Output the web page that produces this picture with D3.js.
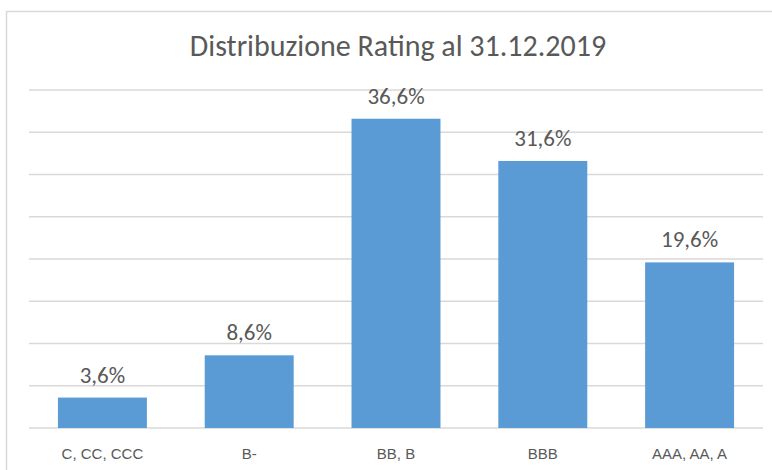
<!DOCTYPE html>
<html lang="it">
<head>
    <meta charset="UTF-8">
    <title>Distribuzione Rating al 31.12.2019</title>
    <style>
        body {
            margin: 0;
            background-color: #FFFFFF;
            font-family: Calibri, Carlito, Lato, "Liberation Sans", Arial, sans-serif;
        }
        svg text {
            fill: #595959;
        }
    </style>
</head>
<body>
    <div id="chart"></div>

    <script src="https://d3js.org/d3.v7.min.js"></script>
    <script>
        // Data
        const categories = ["C, CC, CCC", "B-", "BB, B", "BBB", "AAA, AA, A"];
        const values = [3.6, 8.6, 36.6, 31.6, 19.6];
        const gridTicks = [0, 5, 10, 15, 20, 25, 30, 35, 40];
        const title = "Distribuzione Rating al 31.12.2019";

        const width = 772;
        const height = 470;
        const plot = { left: 29, right: 763, top: 90, bottom: 428 };

        const svg = d3.select("#chart")
            .append("svg")
            .attr("width", width)
            .attr("height", height);

        // Chart frame (only top and left edges are visible in the picture)
        svg.append("rect")
            .attr("x", 6.5)
            .attr("y", 11.5)
            .attr("width", 800)
            .attr("height", 500)
            .attr("fill", "none")
            .attr("stroke", "#d9d9d9")
            .attr("stroke-width", 1.5);

        const x = d3.scaleBand()
            .domain(categories)
            .range([plot.left, plot.right])
            .paddingInner(0.394)
            .paddingOuter(0.197);

        const y = d3.scaleLinear()
            .domain([0, 40])
            .range([plot.bottom, plot.top]);

        // Gridlines
        svg.append("g")
            .selectAll("line")
            .data(gridTicks)
            .join("line")
            .attr("x1", plot.left)
            .attr("x2", plot.right)
            .attr("y1", d => y(d))
            .attr("y2", d => y(d))
            .attr("stroke", "#d9d9d9")
            .attr("stroke-width", 1.5);

        // Bars
        svg.append("g")
            .selectAll("rect")
            .data(values)
            .join("rect")
            .attr("x", (d, i) => x(categories[i]))
            .attr("y", d => y(d))
            .attr("width", x.bandwidth())
            .attr("height", d => y(0) - y(d))
            .attr("fill", "#5b9bd5");

        // Data labels
        svg.append("g")
            .selectAll("text")
            .data(values)
            .join("text")
            .attr("x", (d, i) => x(categories[i]) + x.bandwidth() / 2)
            .attr("y", d => y(d) - 15)
            .attr("text-anchor", "middle")
            .attr("font-size", "23px")
            .text(d => d.toFixed(1).replace(".", ",") + "%");

        // Category axis labels
        const xAxis = d3.axisBottom(x).tickSize(0).tickPadding(0);
        const axisG = svg.append("g")
            .attr("transform", `translate(0, ${plot.bottom})`)
            .call(xAxis);
        axisG.select(".domain").remove();
        axisG.selectAll("text")
            .attr("dy", null)
            .attr("y", 31)
            .attr("font-size", "15px")
            .attr("font-family", null)
            .attr("fill", "#595959");

        // Title
        svg.append("text")
            .attr("x", 398)
            .attr("y", 56)
            .attr("text-anchor", "middle")
            .attr("font-size", "30px")
            .text(title);
    </script>
</body>
</html>
